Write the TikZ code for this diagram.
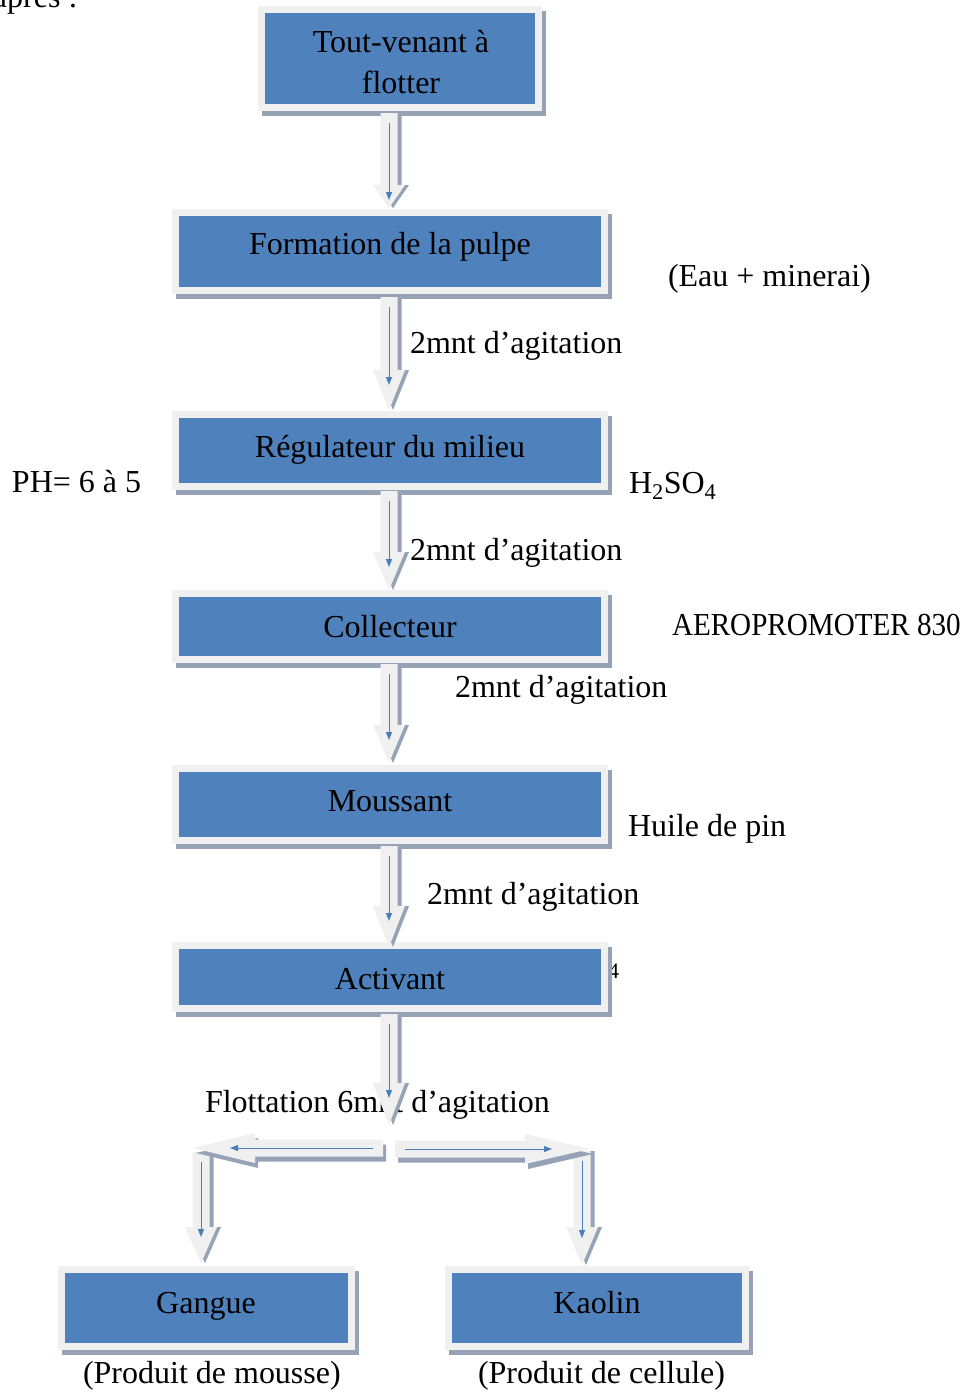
\documentclass[tikz,border=0pt]{standalone}
\usepackage{fontspec}
\setmainfont{Liberation Serif}
\usepackage{graphicx}
\usetikzlibrary{calc,backgrounds,arrows.meta}

\definecolor{boxblue}{RGB}{79,129,189}
\definecolor{framegray}{RGB}{240,240,240}
\definecolor{shadowgray}{RGB}{150,163,183}
\definecolor{linkblue}{RGB}{74,126,187}

% downward block arrow: start, tip, head length, gap of the thin line before the tip
\newcommand{\flowdown}[4]{%
  \fill[shadowgray] let \p1=#1, \p2=#2 in
    (\x1-4.5pt,\y1) -- (\x1+12.5pt,\y1) -- (\x1+12.5pt,\y2+#3) -- (\x1+20pt,\y2+#3)
    -- (\x2+4pt,\y2) -- (\x1-12pt,\y2+#3) -- (\x1-4.5pt,\y2+#3) -- cycle;
  \fill[framegray] let \p1=#1, \p2=#2 in
    (\x1-8.5pt,\y1) -- (\x1+8.5pt,\y1) -- (\x1+8.5pt,\y2+#3) -- (\x1+16pt,\y2+#3)
    -- (\x2,\y2) -- (\x1-16pt,\y2+#3) -- (\x1-8.5pt,\y2+#3) -- cycle;
  \draw[flowline] ($#1!10pt!#2$) -- ($#2!#4!#1$);
}
% sideways block arrow: start, tip, signed head length, gap of the thin line
\newcommand{\flowside}[4]{%
  \fill[shadowgray] let \p1=#1, \p2=#2, \n1={\x2-(#3)} in
    (\x1+3pt,\y1+3.5pt) -- (\n1+3pt,\y1+3.5pt) -- (\n1+3pt,\y1+10pt)
    -- (\x2+3pt,\y1-5pt) -- (\n1+3pt,\y1-20pt) -- (\n1+3pt,\y1-13.5pt)
    -- (\x1+3pt,\y1-13.5pt) -- cycle;
  \fill[framegray] let \p1=#1, \p2=#2, \n1={\x2-(#3)} in
    (\x1,\y1+8.5pt) -- (\n1,\y1+8.5pt) -- (\n1,\y1+15pt) -- (\x2,\y1)
    -- (\n1,\y1-15pt) -- (\n1,\y1-8.5pt) -- (\x1,\y1-8.5pt) -- cycle;
  \draw[flowline] ($#1!10pt!#2$) -- ($#2!#4!#1$);
}

\begin{document}
\begin{tikzpicture}[x=1pt,y=-1pt,
  every node/.style={inner sep=0pt,outer sep=0pt},
  txt/.style={font=\fontsize{32}{38}\selectfont,text=black},
  box/.style={fill=boxblue,draw=none},
  flowline/.style={draw=linkblue,line width=1pt,-{Triangle[width=6pt,length=8pt]}}]

\useasboundingbox (0,0) rectangle (968,1393);

% process boxes (blue faces)
\node[box,minimum width=270pt,minimum height=91pt] (b1) at (400,58.5) {};
\node[box,minimum width=422pt,minimum height=71pt] (b2) at (390,251.5) {};
\node[box,minimum width=422pt,minimum height=65pt] (b3) at (390,450.5) {};
\node[box,minimum width=422pt,minimum height=59pt] (b4) at (390,626.5) {};
\node[box,minimum width=422pt,minimum height=65pt] (b5) at (390,804.5) {};
\node[box,minimum width=422pt,minimum height=56pt] (b6) at (390,977) {};
\node[box,minimum width=283pt,minimum height=70pt] (b7) at (206.5,1308) {};
\node[box,minimum width=290pt,minimum height=70pt] (b8) at (597,1308) {};

% frames and drop shadows behind the boxes
\begin{scope}[on background layer]
  \fill[white] (0,0) rectangle (968,1393);
  \node[anchor=base west,font=\fontsize{22}{26}\selectfont] (l13) at (608,978) {4};
  \foreach \b in {b1,b2,b3,b4,b5,b6,b7,b8}{
    \fill[shadowgray] ([shift={(-3pt,2pt)}]\b.north west) rectangle ([shift={(11pt,-12pt)}]\b.south east);
    \fill[framegray] ([shift={(-7pt,7pt)}]\b.north west) rectangle ([shift={(7pt,-7pt)}]\b.south east);
  }
\end{scope}

% box texts
\node[txt,anchor=base] (t1a) at (401,52) {Tout-venant à};
\node[txt,anchor=base] (t1b) at (401,93) {flotter};
\node[txt,anchor=base] (t2) at (390,254) {Formation de la pulpe};
\node[txt,anchor=base] (t3) at (390,457) {Régulateur du milieu};
\node[txt,anchor=base] (t4) at (390,637) {Collecteur};
\node[txt,anchor=base] (t5) at (390,811) {Moussant};
\node[txt,anchor=base] (t6) at (390,989) {Activant};
\node[txt,anchor=base] (t7) at (206,1313) {Gangue};
\node[txt,anchor=base] (t8) at (597,1313) {Kaolin};

% side notes
\node[txt,anchor=base west] (l0) at (-7,7) {après :};
\node[txt,anchor=base west] (l1) at (668,286) {(Eau + minerai)};
\node[txt,anchor=base west] (l2) at (410,353) {2mnt d’agitation};
\node[txt,anchor=base west] (l3) at (12,492) {PH= 6 à 5};
\node[txt,anchor=base west] (l4) at (629,493) {H\textsubscript{2}SO\textsubscript{4}};
\node[txt,anchor=base west] (l5) at (410,560) {2mnt d’agitation};
\node[txt,anchor=base west] (l6) at (672,635) {\scalebox{0.91}[1]{AEROPROMOTER 830}};
\node[txt,anchor=base west] (l7) at (455,697) {2mnt d’agitation};
\node[txt,anchor=base west] (l8) at (628,836) {Huile de pin};
\node[txt,anchor=base west] (l9) at (427,904) {2mnt d’agitation};
\node[txt,anchor=base west] (l10) at (205,1112) {Flottation 6mnt d’agitation};
\node[txt,anchor=base west] (l11) at (83,1383) {(Produit de mousse)};
\node[txt,anchor=base west] (l12) at (478,1383) {(Produit de cellule)};

% arrow end points
\coordinate (a1s) at ($(b1.south -| b2.south)+(-1,9)$);
\coordinate (a1t) at ($(b2.north)+(-1,-8)$);
\coordinate (a2s) at ($(b2.south)+(-1,10)$);
\coordinate (a2t) at ($(b3.north)+(-1,-8)$);
\coordinate (a3s) at ($(b3.south)+(-1,8)$);
\coordinate (a3t) at ($(b4.north)+(-1,-7)$);
\coordinate (a4s) at ($(b4.south)+(-1,8)$);
\coordinate (a4t) at ($(b5.north)+(-1,-9)$);
\coordinate (a5s) at ($(b5.south)+(-1,9)$);
\coordinate (a5t) at ($(b6.north)+(-1,-2)$);
\coordinate (a6s) at ($(b6.south)+(-1,9)$);
\coordinate (split) at ($(b6.south)+(-1,120)$);
\coordinate (hls) at ($(split)+(-6,23)$);
\coordinate (hlt) at ($(b7.north)+(-13.5,-125)$);
\coordinate (hrs) at ($(split)+(6,24)$);
\coordinate (hrt) at ($(b8.north)+(-7,-124)$);
\coordinate (dls) at ($(b7.north)+(-5.5,-121)$);
\coordinate (dlt) at ($(b7.north)+(-5.5,-10)$);
\coordinate (drs) at ($(b8.north)+(-15,-122)$);
\coordinate (drt) at ($(b8.north)+(-15,-8)$);

% block arrows
\flowdown{(a1s)}{(a1t)}{23pt}{8pt}
\flowdown{(a2s)}{(a2t)}{40pt}{25pt}
\flowdown{(a3s)}{(a3t)}{38pt}{23pt}
\flowdown{(a4s)}{(a4t)}{38pt}{23pt}
\flowdown{(a5s)}{(a5t)}{41pt}{26pt}
\flowdown{(a6s)}{(split)}{42pt}{27pt}
\flowdown{(dls)}{(dlt)}{36pt}{26pt}
\flowdown{(drs)}{(drt)}{38pt}{27pt}
\flowside{(hls)}{(hlt)}{-62pt}{37pt}
\flowside{(hrs)}{(hrt)}{65pt}{38pt}

\end{tikzpicture}
\end{document}
